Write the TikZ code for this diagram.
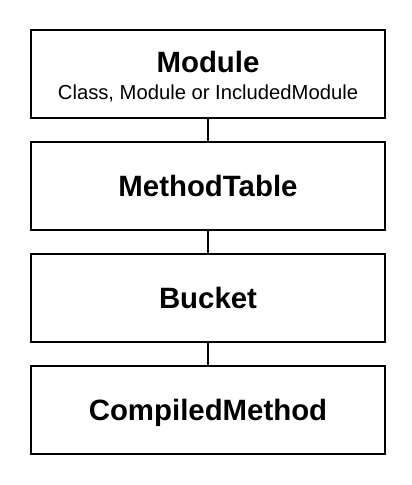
\documentclass[tikz,border=0pt]{standalone}
\usepackage{fontspec}
\setmainfont{Liberation Sans}
\usetikzlibrary{positioning}
\tikzset{
	classbox/.style={draw, line width=2bp, minimum width=354bp, minimum height=88bp, inner sep=0pt,
		text height=21.2bp, text depth=0pt, font=\fontsize{29.5}{34}\selectfont\bfseries},
	link/.style={line width=2bp},
}
\begin{document}
\begin{tikzpicture}[node distance=22bp]
	\useasboundingbox (0,0) rectangle (412bp,-485bp);
	% the chain of boxes, top to bottom
	\node[classbox] (module) at (208bp,-74bp) {};
	\node[anchor=base, inner sep=0pt, font=\fontsize{29.5}{34}\selectfont\bfseries] (moduletitle) at (208bp,-72bp) {Module};
	\node[anchor=base, inner sep=0pt, font=\fontsize{20.3}{24}\selectfont] (modulekind) at (208bp,-99bp) {Class, Module or IncludedModule};
	\node[classbox, below=of module] (table) {MethodTable};
	\node[classbox, below=of table] (bucket) {Bucket};
	\node[classbox, below=of bucket] (method) {CompiledMethod};
	% links between them
	\draw[link] (module.south) -- (table.north);
	\draw[link] (table.south) -- (bucket.north);
	\draw[link] (bucket.south) -- (method.north);
\end{tikzpicture}
\end{document}
